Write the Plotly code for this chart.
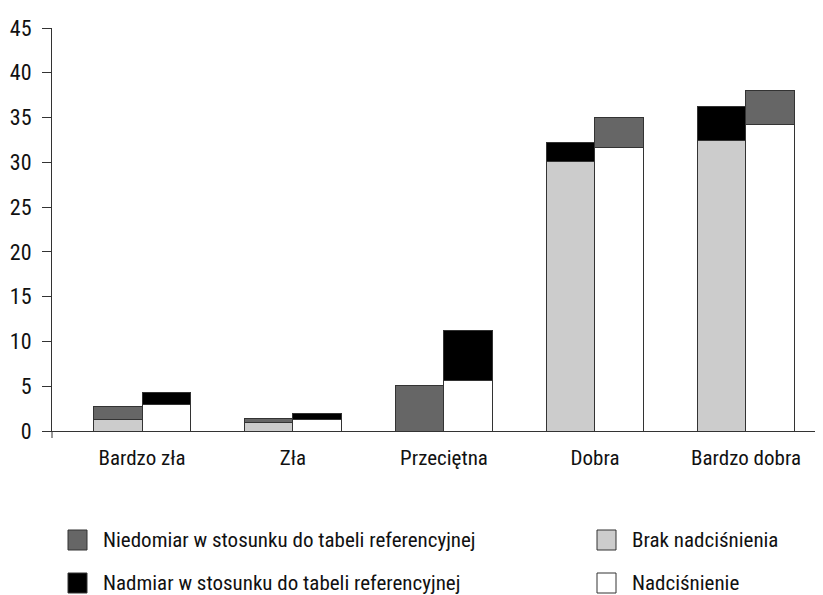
import plotly.graph_objects as go

categories = ["Bardzo zła", "Zła", "Przeciętna", "Dobra", "Bardzo dobra"]

# left bar of each pair: Brak nadciśnienia
brak = [1.3, 0.9, 0.0, 30.1, 32.4]
niedomiar_brak = [1.4, 0.5, 5.1, 0.0, 0.0]
nadmiar_brak = [0.0, 0.0, 0.0, 2.1, 3.8]

# right bar of each pair: Nadciśnienie
nadcisnienie = [3.0, 1.3, 5.6, 31.7, 34.2]
niedomiar_nadc = [0.0, 0.0, 0.0, 3.3, 3.8]
nadmiar_nadc = [1.25, 0.6, 5.6, 0.0, 0.0]

y_ticks = [0, 5, 10, 15, 20, 25, 30, 35, 40, 45]

FONT = "Liberation Sans Narrow, Arial Narrow, Roboto Condensed, DejaVu Sans Condensed, sans-serif"
W = 0.32
left_x = [i - W / 2 for i in range(len(categories))]
right_x = [i + W / 2 for i in range(len(categories))]
outline = dict(color="#333333", width=1)


def seg(xs, ys):
    pts = [(x, y) for x, y in zip(xs, ys) if y > 0]
    return [p[0] for p in pts], [p[1] for p in pts]


fig = go.Figure()

x, y = seg(left_x, brak)
fig.add_trace(go.Bar(x=x, y=y, width=W, name="Brak nadciśnienia",
                     marker=dict(color="#cccccc", line=outline), showlegend=False))
x, y = seg(right_x, nadcisnienie)
fig.add_trace(go.Bar(x=x, y=y, width=W, name="Nadciśnienie",
                     marker=dict(color="#ffffff", line=outline), showlegend=False))
x, y = seg(left_x + right_x, niedomiar_brak + niedomiar_nadc)
fig.add_trace(go.Bar(x=x, y=y, width=W, name="Niedomiar w stosunku do tabeli referencyjnej",
                     marker=dict(color="#666666", line=outline), showlegend=False))
x, y = seg(left_x + right_x, nadmiar_brak + nadmiar_nadc)
fig.add_trace(go.Bar(x=x, y=y, width=W, name="Nadmiar w stosunku do tabeli referencyjnej",
                     marker=dict(color="#000000", line=outline), showlegend=False))

# page body adds an 8px offset, so the figure is 8px smaller than the window
fig.update_layout(
    barmode="stack",
    width=815, height=587,
    margin=dict(l=44, r=0, t=20, b=164),
    plot_bgcolor="white", paper_bgcolor="white",
    font=dict(family=FONT, size=21, color="#111111"),
)
fig.update_xaxes(
    range=[-0.596, 4.51],
    tickvals=list(range(len(categories))), ticktext=categories,
    showline=True, linecolor="#333333", linewidth=1,
    ticks="", showgrid=False, zeroline=False,
    ticklabelstandoff=8,
)
fig.update_yaxes(
    range=[0, 45], tickvals=y_ticks, tickfont=dict(size=22),
    showline=True, linecolor="#333333", linewidth=1,
    ticks="outside", ticklen=9, tickcolor="#333333",
    showgrid=False, zeroline=False,
    ticklabelstandoff=6,
)


# manual legend, positions in window pixels
def px_x(p):
    return (p - 52) / 771


def px_y(p):
    return (431 - p) / 403


# small extension of the y axis below zero
fig.add_shape(type="line", xref="paper", yref="paper",
              x0=0, x1=0, y0=0, y1=px_y(438), line=dict(color="#333333", width=1))

legend_items = [
    ("Niedomiar w stosunku do tabeli referencyjnej", "#666666", 68, 540),
    ("Nadmiar w stosunku do tabeli referencyjnej", "#000000", 68, 583),
    ("Brak nadciśnienia", "#cccccc", 597, 540),
    ("Nadciśnienie", "#ffffff", 597, 583),
]
for label, col, bx, by in legend_items:
    fig.add_shape(type="rect", xref="paper", yref="paper",
                  x0=px_x(bx), x1=px_x(bx + 19), y0=px_y(by + 10), y1=px_y(by - 10),
                  fillcolor=col, line=dict(color="#333333", width=1))
    fig.add_annotation(text=label, xref="paper", yref="paper",
                       x=px_x(bx + 33), y=px_y(by), xanchor="left", yanchor="middle",
                       showarrow=False, font=dict(size=21))

fig.write_html("out.html")
